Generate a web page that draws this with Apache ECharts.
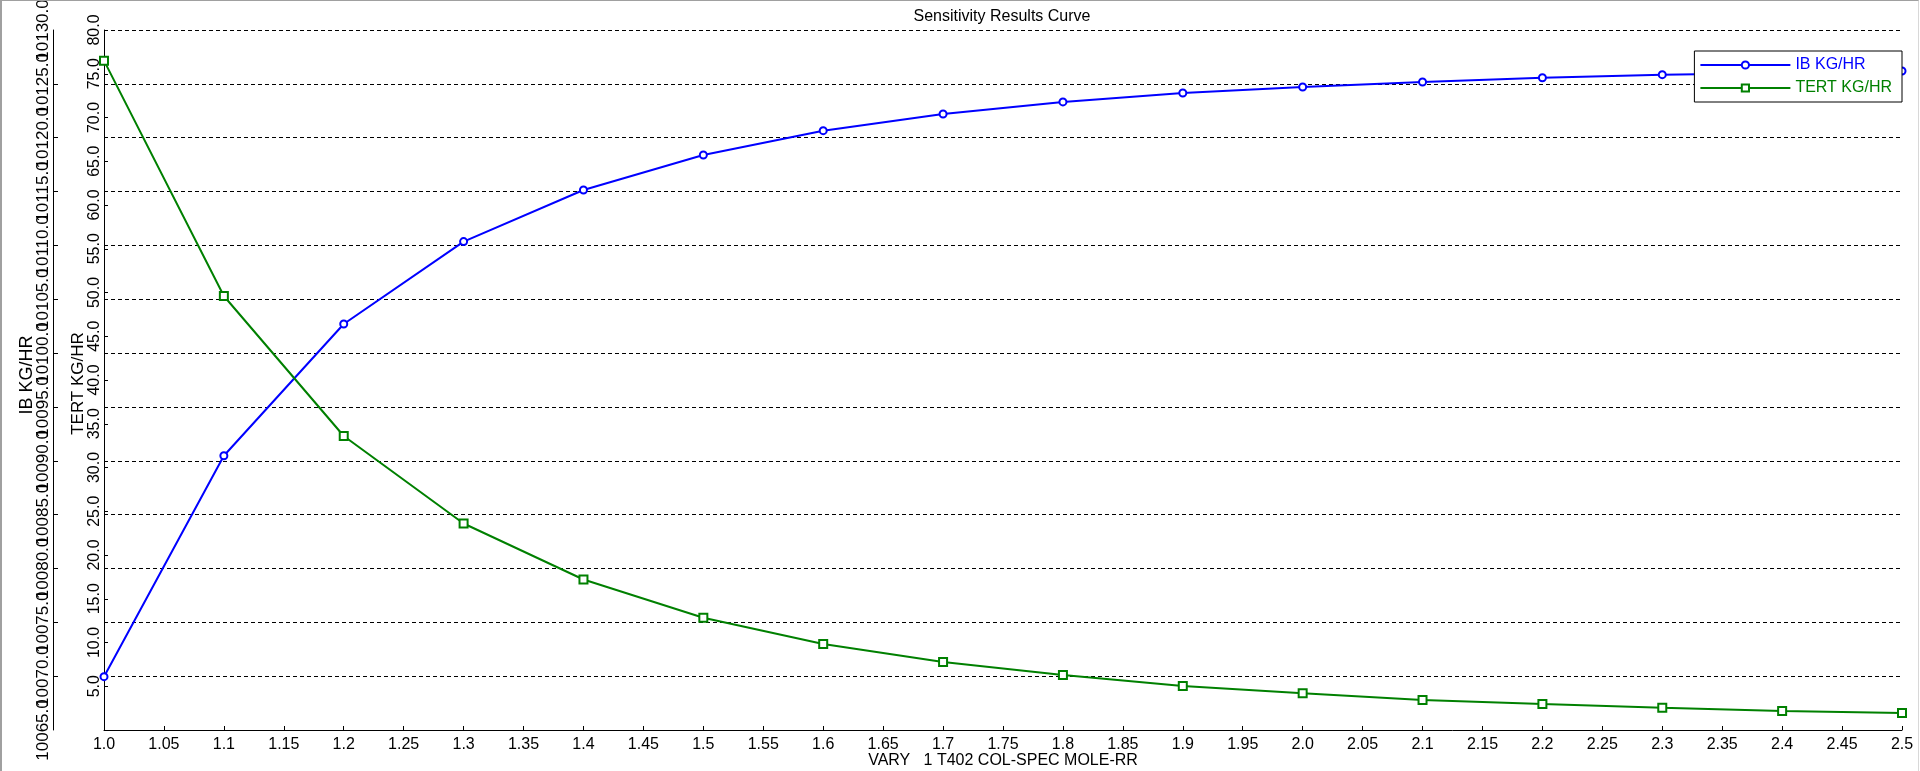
<!DOCTYPE html>
<html>
<head>
<meta charset="utf-8">
<script src="https://cdn.jsdelivr.net/npm/echarts@6/dist/echarts.min.js"></script>
<style>
html,body{margin:0;padding:0;background:#fff;}
#chart{width:1920px;height:771px;position:absolute;left:0;top:0;}
#frame{position:absolute;left:0;top:0;width:1916px;height:770px;border-left:2px solid #a0a0a0;border-top:1px solid #a0a0a0;border-right:1px solid #d8d8d8;pointer-events:none;}
</style>
</head>
<body>
<div id="chart"></div>
<div id="frame"></div>
<script>
const titleText = 'Sensitivity Results Curve';
const xName = 'VARY   1 T402 COL-SPEC MOLE-RR';
const ibAxisName = 'IB KG/HR';
const tertAxisName = 'TERT KG/HR';
const xValues = [1.0, 1.1, 1.2, 1.3, 1.4, 1.5, 1.6, 1.7, 1.8, 1.9, 2.0, 2.1, 2.2, 2.3, 2.4, 2.5];
const ibKgHr = [10069.95, 10090.47, 10102.70, 10110.35, 10115.14, 10118.39, 10120.65, 10122.2, 10123.32, 10124.15, 10124.71, 10125.17, 10125.57, 10125.85, 10126.0, 10126.19];
const tertKgHr = [76.5, 49.6, 33.6, 23.6, 17.2, 12.83, 9.83, 7.77, 6.29, 5.03, 4.2, 3.43, 2.97, 2.55, 2.17, 1.94];
const xTickLabels = ['1.0','1.05','1.1','1.15','1.2','1.25','1.3','1.35','1.4','1.45','1.5','1.55','1.6','1.65','1.7','1.75','1.8','1.85','1.9','1.95','2.0','2.05','2.1','2.15','2.2','2.25','2.3','2.35','2.4','2.45','2.5'];
const seriesNames = ['IB KG/HR', 'TERT KG/HR'];
const seriesColors = ['#0000ff', '#008000'];
const ibAxisMin = 10065, ibAxisMax = 10130;

const FONT = "'Liberation Sans', Arial, sans-serif";
const chart = echarts.init(document.getElementById('chart'), null, {renderer: 'canvas'});

const ibLabelBase = {
  rotate: 90, hideOverlap: false,
  fontFamily: FONT, fontSize: 17, color: '#000', margin: 1
};

const option = {
  animation: false,
  backgroundColor: '#ffffff',
  title: {
    text: titleText,
    left: 997, top: 4, textAlign: 'center',
    textStyle: {fontFamily: FONT, fontSize: 16, fontWeight: 'normal', color: '#000'}
  },
  legend: {
    orient: 'vertical', right: 18, top: 51, align: 'left',
    padding: [6, 10, 6, 5],
    itemWidth: 90, itemHeight: 9, itemGap: 7,
    borderColor: '#000', borderWidth: 1, backgroundColor: '#fff',
    textStyle: {fontFamily: FONT, fontSize: 16},
    data: [
      {name: seriesNames[0], textStyle: {color: seriesColors[0]}},
      {name: seriesNames[1], textStyle: {color: seriesColors[1]}}
    ]
  },
  grid: {left: 104, right: 18, top: 30, bottom: 41, containLabel: false, outerBoundsMode: 'none'},
  xAxis: {
    type: 'value', min: 1, max: 2.5, interval: 0.05,
    name: xName, nameLocation: 'middle', nameGap: 23, nameMoveOverlap: false,
    nameTextStyle: {fontFamily: FONT, fontSize: 16, color: '#000'},
    axisLine: {show: true, lineStyle: {color: '#000', width: 1}},
    axisTick: {show: true, inside: true, length: 4, lineStyle: {color: '#000'}},
    axisLabel: {
      fontFamily: FONT, fontSize: 16, color: '#000', margin: 7,
      showMinLabel: true, showMaxLabel: true,
      formatter: function (v) { return xTickLabels[Math.round((v - 1) / 0.05)]; }
    },
    splitLine: {show: false}
  },
  yAxis: [
    {
      type: 'value', position: 'left', offset: 0, min: 0, max: 80, interval: 5,
      name: tertAxisName, nameLocation: 'middle', nameRotate: 90, nameGap: 17, nameMoveOverlap: false,
      nameTextStyle: {fontFamily: FONT, fontSize: 17, color: '#000', padding: [0, 7, 0, 0]},
      axisLine: {show: true, lineStyle: {color: '#000', width: 1}},
      axisTick: {show: true, inside: true, length: 4, lineStyle: {color: '#000'}},
      axisLabel: {
        rotate: 90, showMinLabel: false, showMaxLabel: true, hideOverlap: false,
        fontFamily: FONT, fontSize: 16, color: '#000', margin: 1,
        formatter: function (v) { return v.toFixed(1); }
      },
      splitLine: {show: false}
    },
    {
      type: 'value', position: 'left', offset: 51, min: ibAxisMin, max: ibAxisMax, interval: 5,
      name: ibAxisName, nameLocation: 'middle', nameRotate: 90, nameGap: 17, nameMoveOverlap: false,
      nameTextStyle: {fontFamily: FONT, fontSize: 18, color: '#000', padding: [0, 0, 0, 10]},
      axisLine: {show: true, lineStyle: {color: '#000', width: 1}},
      axisTick: {show: true, inside: true, length: 5, lineStyle: {color: '#000'}},
      axisLabel: Object.assign({}, ibLabelBase, {
        showMinLabel: false, showMaxLabel: false,
        formatter: function (v) { return v.toFixed(1); }
      }),
      splitLine: {show: true, lineStyle: {color: '#000', width: 1, type: [4, 3]}}
    },
    {
      // end labels of the IB axis (drawn separately so neighbours are not suppressed)
      type: 'value', position: 'left', offset: 51, min: ibAxisMin, max: ibAxisMax, interval: 5,
      axisLine: {show: false}, axisTick: {show: false}, splitLine: {show: false},
      axisLabel: Object.assign({}, ibLabelBase, {
        showMinLabel: true, showMaxLabel: true,
        formatter: function (v) { return (v === ibAxisMin || v === ibAxisMax) ? v.toFixed(1) : ''; }
      })
    }
  ],
  series: [
    {
      name: seriesNames[0], type: 'line', yAxisIndex: 1,
      data: xValues.map((x, i) => [x, ibKgHr[i]]),
      symbol: 'emptyCircle', symbolSize: 7, showAllSymbol: true,
      lineStyle: {color: seriesColors[0], width: 2},
      itemStyle: {color: seriesColors[0], borderColor: seriesColors[0], borderWidth: 1}
    },
    {
      name: seriesNames[1], type: 'line', yAxisIndex: 0,
      data: xValues.map((x, i) => [x, tertKgHr[i]]),
      symbol: 'emptyRect', symbolSize: 8, showAllSymbol: true,
      lineStyle: {color: seriesColors[1], width: 2},
      itemStyle: {color: seriesColors[1], borderColor: seriesColors[1], borderWidth: 1}
    }
  ]
};
chart.setOption(option);
</script>
</body>
</html>
